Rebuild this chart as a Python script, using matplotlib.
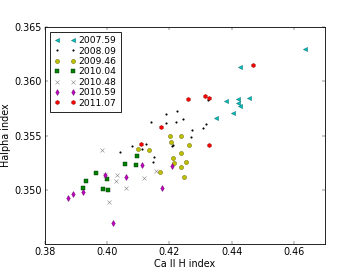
import matplotlib
matplotlib.use("Agg")
import matplotlib.pyplot as plt

labels = ["2007.59", "2008.09", "2009.46", "2010.04", "2010.48", "2010.59", "2011.07"]

x_2007 = [0.4636, 0.4428, 0.4382, 0.4421, 0.4421, 0.4428, 0.4457, 0.4404, 0.4351]
y_2007 = [0.3630, 0.3613, 0.3582, 0.3584, 0.3580, 0.3577, 0.3585, 0.3571, 0.3566]

x_2008 = [0.4323, 0.4225, 0.4188, 0.4243, 0.4221, 0.4140, 0.4190, 0.4317, 0.4309, 0.4274,
          0.4270, 0.4125, 0.4113, 0.4212, 0.4207, 0.4149, 0.4147, 0.4079, 0.4040]
y_2008 = [0.3583, 0.3573, 0.3570, 0.3565, 0.3562, 0.3562, 0.35617, 0.3561, 0.3557, 0.3555,
          0.3549, 0.3542, 0.3538, 0.3541, 0.3540, 0.3530, 0.3526, 0.3540, 0.3535]

x_2009 = [0.4203, 0.4236, 0.4206, 0.4263, 0.4133, 0.4099, 0.4237, 0.4211, 0.4213, 0.4253,
          0.4236, 0.4169, 0.4247]
y_2009 = [0.3550, 0.3550, 0.3544, 0.3541, 0.3537, 0.3538, 0.3534, 0.3529, 0.3525, 0.3526,
          0.3521, 0.3516, 0.3512]

x_2010a = [0.4094, 0.4058, 0.4093, 0.3965, 0.3998, 0.3931, 0.3921, 0.3985, 0.4003]
y_2010a = [0.3531, 0.3524, 0.3523, 0.3515, 0.3510, 0.3508, 0.3502, 0.3501, 0.3500]

x_2010b = [0.3982, 0.4032, 0.4027, 0.4117, 0.4061, 0.4006, 0.3993, 0.4158]
y_2010b = [0.3537, 0.3514, 0.3508, 0.3511, 0.3502, 0.3489, 0.3514, 0.3517]

x_2010c = [0.4113, 0.4209, 0.4059, 0.3992, 0.4177, 0.3922, 0.3890, 0.3874, 0.4019]
y_2010c = [0.3523, 0.3522, 0.3512, 0.3514, 0.3502, 0.3498, 0.3496, 0.3492, 0.3469]

x_2011 = [0.4468, 0.4260, 0.4313, 0.4326, 0.4173, 0.4110, 0.4327]
y_2011 = [0.3615, 0.3584, 0.3586, 0.3585, 0.3558, 0.3542, 0.3541]

xticks = [0.38, 0.40, 0.42, 0.44, 0.46]
yticks = [0.350, 0.355, 0.360, 0.365]

DPI = 60
fig = plt.figure(figsize=(361 / DPI, 271 / DPI), dpi=DPI, facecolor="white")
ax = fig.add_axes([0.125, 0.1, 0.775, 0.8])

ms = 5
mew = 0.5
ax.plot(x_2007, y_2007, "<", color="c", ms=ms, mec="#006060", mew=mew, ls="none", label=labels[0])
ax.plot(x_2008, y_2008, ".", color="k", ms=3, ls="none", label=labels[1])
ax.plot(x_2009, y_2009, "o", color="y", ms=ms, mec="#606000", mew=mew, ls="none", label=labels[2])
ax.plot(x_2010a, y_2010a, "s", color="g", ms=ms, mec="#003000", mew=mew, ls="none", label=labels[3])
ax.plot(x_2010b, y_2010b, "x", color="0.55", ms=4.5, mew=0.7, ls="none", label=labels[4])
ax.plot(x_2010c, y_2010c, "d", color="m", ms=ms, mec="#600060", mew=mew, ls="none", label=labels[5])
ax.plot(x_2011, y_2011, "h", color="r", ms=ms, mec="#800000", mew=mew, ls="none", label=labels[6])

ax.set_xlim(0.38, 0.47)
ax.set_ylim(0.345, 0.365)
ax.set_xticks(xticks)
ax.set_xticklabels(["%.2f" % v for v in xticks])
ax.set_yticks(yticks)
ax.set_yticklabels(["%.3f" % v for v in yticks])
ax.tick_params(direction="in", top=True, right=True, labelsize=11.5, length=4, width=0.5, pad=4)
for s in ax.spines.values():
    s.set_linewidth(1.0)

ax.set_xlabel("Ca II H index", fontsize=11.5, labelpad=2)
ax.set_ylabel("Halpha index", fontsize=11.5, labelpad=4)

leg = ax.legend(loc="upper left", numpoints=2, fontsize=11, fancybox=False,
                framealpha=1, edgecolor="k", borderaxespad=0.5, labelspacing=0.15,
                handlelength=2.3, handletextpad=0.35, borderpad=0.5)
leg.get_frame().set_linewidth(1.0)

fig.savefig("out.png", dpi=DPI, facecolor="white")
